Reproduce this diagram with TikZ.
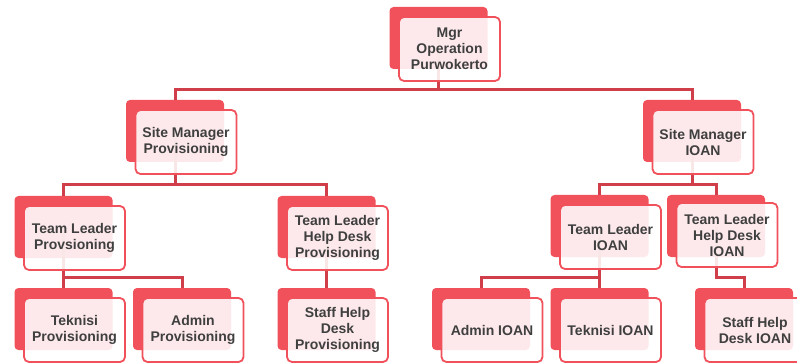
\documentclass[tikz,border=0pt]{standalone}
\usepackage{fontspec}
\setmainfont{Liberation Sans}
\usetikzlibrary{positioning}
\definecolor{boxred}{HTML}{F0515B}
\definecolor{linered}{HTML}{CF3E49}
\definecolor{txtgray}{HTML}{3F3F3F}
\begin{document}
\begin{tikzpicture}[x=1pt, y=-1pt,
backbox/.style={rectangle, rounded corners=4pt, fill=boxred, minimum width=98pt, minimum height=62pt, inner sep=0pt},
frontbox/.style={rectangle, rounded corners=5pt, draw=boxred, line width=1.8pt, fill=white, fill opacity=0.88, text opacity=1, minimum width=101pt, minimum height=64pt, inner sep=0pt, align=center, text=txtgray, font=\fontsize{14}{16}\selectfont\bfseries},
link/.style={draw=linered, line width=3pt},
]
\useasboundingbox (0,0) rectangle (797,363);

%Back boxes
\node[backbox]  at (438.5,38)   (mgr_back)  {};
\node[backbox]  at (175,131)    (smp_back)  {};
\node[backbox]  at (692,131)    (smi_back)  {};
\node[backbox]  at (63.5,227)   (tlp_back)  {};
\node[backbox]  at (326.5,227)  (tlhp_back) {};
\node[backbox]  at (599.5,226)  (tli_back)  {};
\node[backbox]  at (716,226)    (tlhi_back) {};
\node[backbox]  at (63.5,319)   (tekp_back) {};
\node[backbox]  at (182,319)    (admp_back) {};
\node[backbox]  at (326.5,319)  (shp_back)  {};
\node[backbox]  at (481,319)    (admi_back) {};
\node[backbox]  at (599.5,319)  (teki_back) {};
\node[backbox]  at (744,319)    (shi_back)  {};

%Junction levels
\coordinate (lvl0) at (0,90);
\coordinate (lvl1) at (0,185);
\coordinate (lvl2) at (0,277);

%Lines
\draw[link] (mgr_back.center) -- (mgr_back.center |- lvl0) -| (smp_back.north);
\draw[link] (mgr_back.center) -- (mgr_back.center |- lvl0) -| (smi_back.north);

\draw[link] (smp_back.center) -- (smp_back.center |- lvl1) -| (tlp_back.north);
\draw[link] (smp_back.center) -- (smp_back.center |- lvl1) -| (tlhp_back.north);
\draw[link] (smi_back.center) -- (smi_back.center |- lvl1) -| (tli_back.north);
\draw[link] (smi_back.center) -- (smi_back.center |- lvl1) -| (tlhi_back.north);

\draw[link] (tlp_back.center) -- (tlp_back.center |- lvl2) -| (tekp_back.north);
\draw[link] (tlp_back.center) -- (tlp_back.center |- lvl2) -| (admp_back.north);
\draw[link] (tlhp_back.center) -- (shp_back.north);
\draw[link] (tli_back.center) -- (tli_back.center |- lvl2) -| (admi_back.north);
\draw[link] (tli_back.center) -- (tli_back.center |- lvl2) -| (teki_back.north);
\draw[link] (tlhi_back.center) -- (tlhi_back.center |- lvl2) -| (shi_back.north);

%Front boxes
\node[frontbox] at (449.5,49)   (mgr)  {Mgr\\Operation\\Purwokerto};
\node[frontbox] at (186,142)    (smp)  {Site Manager\\Provisioning};
\node[frontbox] at (703,142)    (smi)  {Site Manager\\IOAN};
\node[frontbox] at (74.5,238)   (tlp)  {Team Leader\\Provsioning};
\node[frontbox] at (337.5,238)  (tlhp) {Team Leader\\Help Desk\\Provisioning};
\node[frontbox] at (610.5,237)  (tli)  {Team Leader\\IOAN};
\node[frontbox] at (727,235)    (tlhi) {Team Leader\\Help Desk\\IOAN};
\node[frontbox] at (74.5,330)   (tekp) {Teknisi\\Provisioning};
\node[frontbox] at (193,330)    (admp) {Admin\\Provisioning};
\node[frontbox] at (337.5,330)  (shp)  {Staff Help\\Desk\\Provisioning};
\node[frontbox] at (492,330)    (admi) {Admin IOAN};
\node[frontbox] at (610.5,330)  (teki) {Teknisi IOAN};
\node[frontbox] at (755,330)    (shi)  {Staff Help\\Desk IOAN};

\end{tikzpicture}
\end{document}
